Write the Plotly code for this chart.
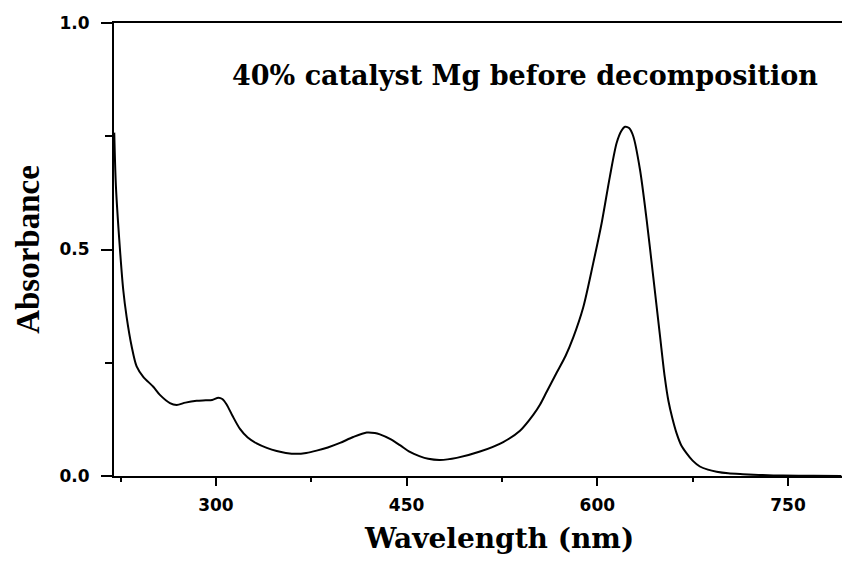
import plotly.graph_objects as go

wavelength = [220, 221.3, 224.5, 227.1, 229.7, 233.7, 237.6, 242.8, 250.7, 255.9,
              263.8, 269.1, 276, 284.8, 292, 297, 302, 305, 308.4, 313,
              318.9, 325, 332, 340, 347.8, 355, 363.5, 371, 379.2, 388,
              397.6, 408, 418.6, 425, 429, 436.9, 444.8, 452.6, 460, 467, 476.2,
              489.4, 507.7, 526, 539.2, 549.6, 555, 560.2, 568, 575, 581.1,
              588.9, 596.8, 603.4, 609.9, 615.2, 619, 621.8, 625, 628.3, 633.6,
              638.8, 644, 649.3, 653, 656, 659, 662.4, 666, 670.3, 675,
              680.7, 687, 693.9, 703, 714.6, 730, 746, 770, 792]
absorbance = [0.758, 0.64, 0.50, 0.41, 0.352, 0.286, 0.242, 0.219, 0.197, 0.179,
              0.161, 0.157, 0.162, 0.166, 0.167, 0.168, 0.173, 0.17, 0.158, 0.133,
              0.104, 0.085, 0.072, 0.062, 0.055, 0.051, 0.049, 0.051, 0.056, 0.063,
              0.073, 0.086, 0.096, 0.095, 0.092, 0.082, 0.068, 0.053, 0.044, 0.038, 0.0354,
              0.040, 0.054, 0.075, 0.100, 0.135, 0.158, 0.186, 0.228, 0.265, 0.306,
              0.372, 0.47, 0.558, 0.661, 0.735, 0.762, 0.771, 0.768, 0.75, 0.676,
              0.566, 0.44, 0.31, 0.22, 0.165, 0.128, 0.094, 0.068, 0.05, 0.034,
              0.021, 0.014, 0.0095, 0.006, 0.004, 0.002, 0.001, 0.0005, 0.0]

x_ticks = [300, 450, 600, 750]
y_ticks = [0.0, 0.5, 1.0]
y_tick_labels = ["0.0", "0.5", "1.0"]
title_text = "40% catalyst Mg before decomposition"
x_title = "Wavelength (nm)"
y_title = "Absorbance"

fig = go.Figure()
fig.add_trace(go.Scatter(x=wavelength, y=absorbance, mode="lines",
                         line=dict(color="black", width=2, shape="spline", smoothing=0.8),
                         showlegend=False))

tick_font = dict(family="DejaVu Sans", size=17, color="black", weight="bold")

fig.update_layout(
    width=842, height=561,
    margin=dict(l=114, r=0, t=23, b=85, autoexpand=False),
    paper_bgcolor="white", plot_bgcolor="white",
    showlegend=False,
    xaxis=dict(
        range=[219.8, 792.5], tickmode="array", tickvals=x_ticks,
        ticks="outside", ticklen=8, tickwidth=2, tickcolor="black",
        minor=dict(tickvals=[225, 375, 525, 675], ticks="outside", ticklen=4, tickwidth=2, tickcolor="black"),
        showline=True, linewidth=2, linecolor="black", mirror=True,
        showgrid=False, zeroline=False, tickfont=tick_font, ticklabelstandoff=5,
    ),
    yaxis=dict(
        range=[0, 1], tickmode="array", tickvals=y_ticks, ticktext=y_tick_labels,
        ticks="outside", ticklen=11, tickwidth=2, tickcolor="black",
        minor=dict(tickvals=[0.25, 0.75], ticks="outside", ticklen=7, tickwidth=2, tickcolor="black"),
        showline=True, linewidth=2, linecolor="black", mirror=False,
        showgrid=False, zeroline=False, tickfont=tick_font, ticklabelstandoff=8,
        title=dict(text=y_title, standoff=10,
                   font=dict(family="Liberation Serif", size=33, color="black", weight="bold")),
    ),
    annotations=[
        dict(text=title_text, xref="paper", yref="paper",
             x=0.5646, y=0.884, xanchor="center", yanchor="middle", showarrow=False,
             font=dict(family="DejaVu Serif", size=27, color="black", weight="bold")),
        dict(text=x_title, xref="paper", yref="paper",
             x=0.5295, y=-0.137, xanchor="center", yanchor="middle", showarrow=False,
             font=dict(family="DejaVu Serif", size=28, color="black", weight="bold")),
    ],
)

fig.write_html("out.html")
